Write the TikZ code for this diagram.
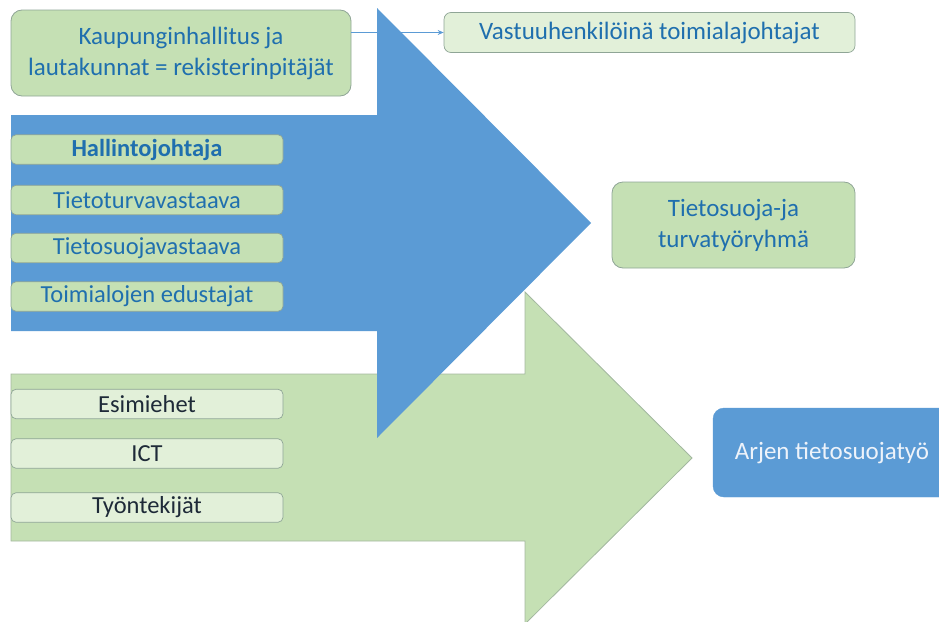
\documentclass[tikz,border=0pt]{standalone}
\usepackage{fontspec}
\setmainfont{Carlito}
\usetikzlibrary{arrows.meta}
\definecolor{ablue}{HTML}{5B9BD5}
\definecolor{agreen}{HTML}{C5E0B4}
\definecolor{lgreen}{HTML}{E2F0D9}
\definecolor{tblue}{HTML}{1F6FAE}
\definecolor{tdark}{HTML}{1E2A38}
\definecolor{bgray}{HTML}{8FA596}
\definecolor{agborder}{HTML}{A3B8A0}
\definecolor{twhite}{HTML}{EEF3FA}
\tikzset{
  bigbox/.style={draw=bgray, line width=0.8pt, fill=agreen, rounded corners=11pt, text=tblue, align=center, font=\fontsize{25}{31}\selectfont, inner sep=0pt},
  smallbox/.style={draw=bgray, line width=0.7pt, fill=agreen, rounded corners=5pt, text=tblue, align=center, font=\fontsize{24.5}{28}\selectfont, minimum width=272pt, minimum height=29.5pt, inner sep=0pt},
  lightbox/.style={smallbox, fill=lgreen, text=tdark},
  conn/.style={draw=ablue, line width=1.2pt, -{Stealth[length=6pt,width=5pt]}}
}
\begin{document}
\begin{tikzpicture}[x=1pt,y=-1pt]
\useasboundingbox (0,0) rectangle (939,621);
\clip (0,0) rectangle (939,621);
% green arrow
\draw[fill=agreen, draw=agborder, line width=0.8pt] (11,374) -- (525,374) -- (525,292) -- (692,458) -- (525,624) -- (525,541) -- (11,541) -- cycle;
% blue arrow
\fill[ablue] (11,115) -- (377,115) -- (377,8) -- (591,223) -- (377,438) -- (377,331) -- (11,331) -- cycle;
% top boxes
\node[bigbox, minimum width=340pt, minimum height=86pt] (kh) at (181,53) {Kaupunginhallitus ja\\lautakunnat = rekisterinpitäjät};
\node[smallbox, fill=lgreen, minimum width=411pt, minimum height=40pt, font=\fontsize{25}{28}\selectfont, rounded corners=7pt] (vh) at (649.5,32.5) {Vastuuhenkilöinä toimialajohtajat};
\draw[conn] (kh.east |- vh.west) -- (vh.west);
% blue arrow boxes
\node[smallbox, font=\fontsize{24.5}{28}\selectfont\bfseries] (hj) at (147,149.5) {Hallintojohtaja};
\node[smallbox] (tt) at (147,200) {Tietoturvavastaava};
\node[smallbox] (ts) at (147,248) {Tietosuojavastaava};
\node[smallbox] (te) at (147,296.5) {Toimialojen edustajat};
% green arrow boxes
\node[lightbox] (es) at (147,404) {Esimiehet};
\node[lightbox] (ict) at (147,453.5) {ICT};
\node[lightbox] (tyo) at (147,507.5) {Työntekijät};
% right boxes
\node[bigbox, minimum width=243pt, minimum height=86pt] (tr) at (733.5,225) {Tietosuoja-ja\\turvatyöryhmä};
\node[fill=ablue, draw=ablue, rounded corners=11pt, minimum width=238pt, minimum height=89pt, inner sep=0pt, text=twhite, font=\fontsize{25}{28}\selectfont] (ar) at (832,452.5) {Arjen tietosuojatyö};
\end{tikzpicture}
\end{document}
